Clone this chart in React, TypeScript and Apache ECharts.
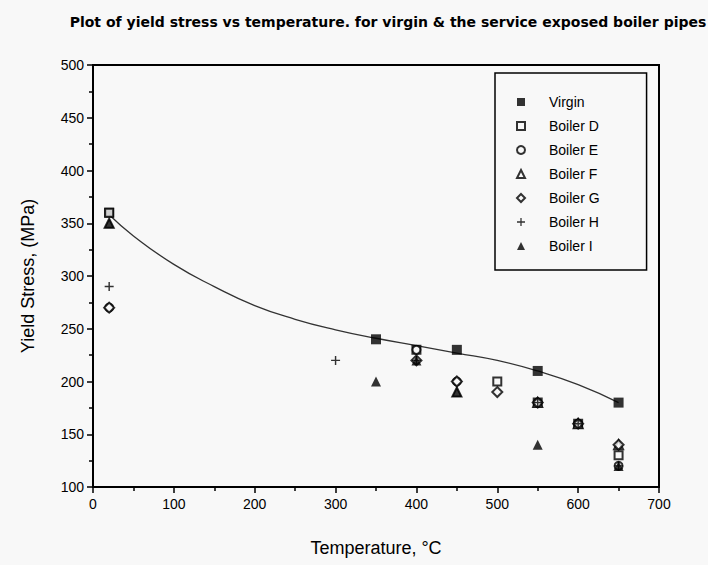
import React, { useEffect, useRef } from "react";
import * as echarts from "echarts";

const title = "Plot of yield stress vs temperature. for virgin & the service exposed boiler pipes";
const xTicks = [0, 100, 200, 300, 400, 500, 600, 700];
const yTicks = [100, 150, 200, 250, 300, 350, 400, 450, 500];

const virgin = [[20, 360], [350, 240], [450, 230], [550, 210], [650, 180]];
const boilerD = [[20, 360], [400, 230], [500, 200], [550, 180], [600, 160], [650, 130]];
const boilerE = [[20, 270], [400, 230], [450, 200], [550, 180], [600, 160], [650, 120]];
const boilerF = [[20, 350], [450, 190], [550, 180], [600, 160], [650, 140]];
const boilerG = [[20, 270], [400, 220], [450, 200], [500, 190], [550, 180], [600, 160], [650, 140]];
const boilerH = [[20, 290], [300, 220], [400, 220], [550, 180], [600, 160], [650, 120]];
const boilerI = [[20, 350], [350, 200], [400, 220], [450, 190], [550, 140], [650, 120]];

// fitted curve
const fitX = [20, 50, 100, 150, 200, 250, 300, 350, 400, 450, 500, 550, 600, 650];
const fitY = [358, 338, 311, 290, 272, 259, 249, 241, 234, 227, 220, 210, 197, 180];

const BG = "#f8f8f8";
const PLUS = "path://M4.2,0 L5.8,0 L5.8,4.2 L10,4.2 L10,5.8 L5.8,5.8 L5.8,10 L4.2,10 L4.2,5.8 L0,5.8 L0,4.2 L4.2,4.2 Z";

export default function App() {
  const ref = useRef<HTMLDivElement>(null);
  useEffect(() => {
    const chart = echarts.init(ref.current!, null, { renderer: "svg" });
    const font = "'Liberation Sans', Arial, sans-serif";
    const open = { color: BG, borderColor: "#000", borderWidth: 2 };
    const filled = { color: "#000" };
    const mk = (name: string, data: number[][], symbol: string, size: number, style: any) => ({
      name,
      type: "scatter",
      data,
      symbol,
      symbolSize: size,
      itemStyle: style,
      z: 3,
    });
    chart.setOption({
      animation: false,
      backgroundColor: BG,
      textStyle: { fontFamily: font },
      title: {
        text: title,
        left: 383,
        textAlign: "center",
        top: 10,
        textStyle: { fontSize: 14, fontWeight: "bold", color: "#000", fontFamily: "'DejaVu Sans', sans-serif" },
      },
      grid: {
        left: 93,
        right: 49,
        top: 65,
        bottom: 78,
        show: true,
        borderColor: "#000",
        borderWidth: 2,
        backgroundColor: "transparent",
      },
      legend: {
        orient: "vertical",
        left: 495,
        top: 73,
        padding: [22, 47, 17, 21],
        itemWidth: 8,
        itemHeight: 8,
        itemGap: 10,
        borderColor: "#000",
        borderWidth: 1.5,
        data: ["Virgin", "Boiler D", "Boiler E", "Boiler F", "Boiler G", "Boiler H", "Boiler I"],
        textStyle: { fontSize: 14, color: "#000", padding: [0, 0, 0, 19], fontFamily: font },
      },
      xAxis: {
        type: "value",
        min: xTicks[0],
        max: xTicks[xTicks.length - 1],
        interval: 100,
        name: "Temperature, °C",
        nameLocation: "middle",
        nameGap: 52,
        nameTextStyle: { fontSize: 18, color: "#000" },
        axisLine: { lineStyle: { color: "#000", width: 2 } },
        axisTick: { length: 6, lineStyle: { color: "#000", width: 1.5 } },
        minorTick: { show: true, splitNumber: 2, length: 4, lineStyle: { color: "#000", width: 1.5 } },
        axisLabel: { fontSize: 14, color: "#000", margin: 10 },
        splitLine: { show: false },
      },
      yAxis: {
        type: "value",
        min: yTicks[0],
        max: yTicks[yTicks.length - 1],
        interval: 50,
        name: "Yield Stress, (MPa)",
        nameLocation: "middle",
        nameGap: 56,
        nameTextStyle: { fontSize: 18, color: "#000" },
        axisLine: { lineStyle: { color: "#000", width: 2 } },
        axisTick: { length: 6, lineStyle: { color: "#000", width: 1.5 } },
        minorTick: { show: true, splitNumber: 2, length: 4, lineStyle: { color: "#000", width: 1.5 } },
        axisLabel: { fontSize: 14, color: "#000", margin: 9 },
        splitLine: { show: false },
      },
      series: [
        {
          name: "fit",
          type: "line",
          data: fitX.map((x, i) => [x, fitY[i]]),
          smooth: true,
          showSymbol: false,
          symbol: "none",
          lineStyle: { color: "#333", width: 1.3 },
          z: 2,
        },
        mk("Virgin", virgin, "rect", 10, filled),
        mk("Boiler D", boilerD, "rect", 8, open),
        mk("Boiler E", boilerE, "circle", 8, open),
        mk("Boiler F", boilerF, "triangle", 9, open),
        mk("Boiler G", boilerG, "diamond", 10, open),
        mk("Boiler H", boilerH, PLUS, 9, filled),
        mk("Boiler I", boilerI, "triangle", 10, filled),
      ],
    });
    return () => chart.dispose();
  }, []);
  return <div ref={ref} style={{ width: 708, height: 565, position: "absolute", left: 0, top: 0 }} />;
}
